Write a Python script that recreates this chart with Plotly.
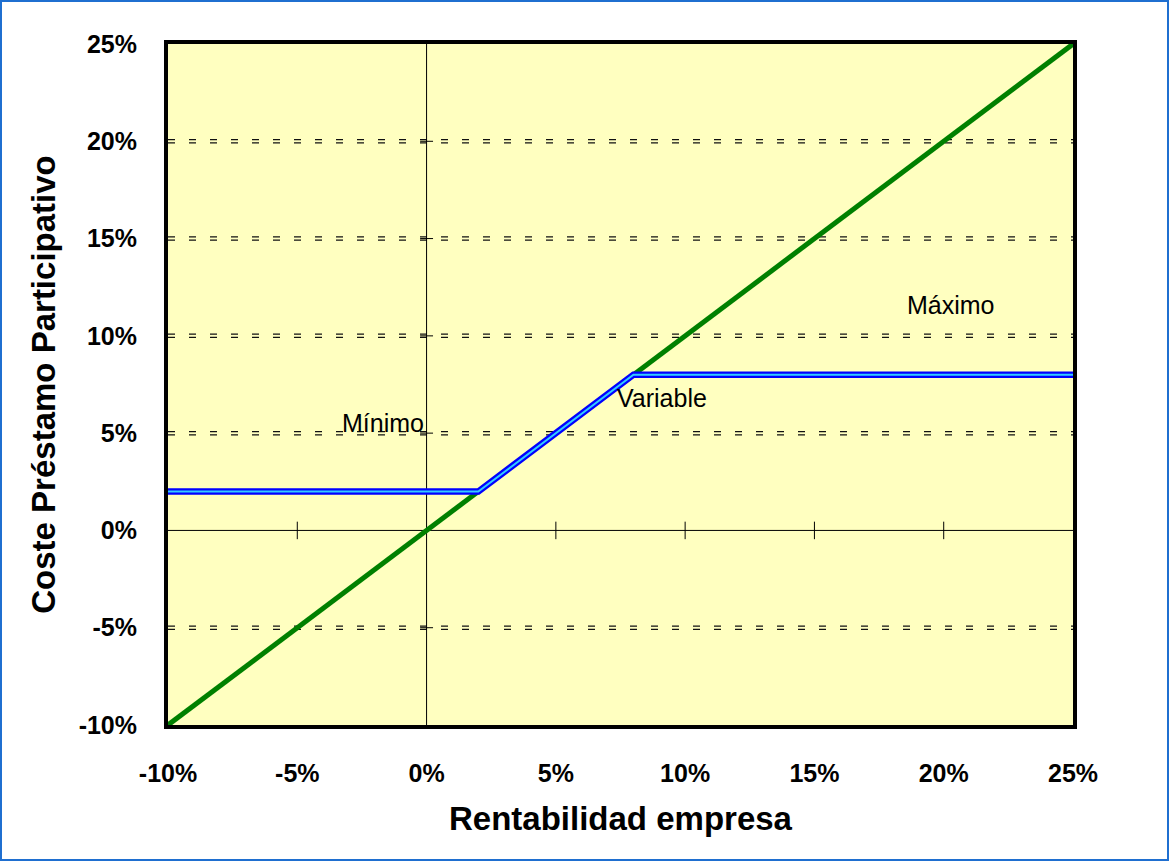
import plotly.graph_objects as go

# Data
x_green = [-10, 25]
y_green = [-10, 25]
x_blue = [-10, 2, 8, 25]
y_blue = [2, 2, 8, 8]
x_ticks = [-10, -5, 0, 5, 10, 15, 20, 25]
y_ticks = [-10, -5, 0, 5, 10, 15, 20, 25]
labels = ["Mínimo", "Variable", "Máximo"]
label_x = [-1.7, 9.1, 20.3]
label_y = [5.5, 6.8, 11.6]

W, H = 1169, 861
L, R, T, B = 168, 96, 44, 136
pw, ph = W - L - R, H - T - B
FONT = "Liberation Sans, Arial"

fig = go.Figure()

shapes = []
# dashed gridlines (hollow rectangle look)
for yv in y_ticks:
    if yv in (-10, 0, 25):
        continue
    shapes.append(dict(type="line", xref="x", yref="y", x0=-10, x1=25, y0=yv, y1=yv,
                       line=dict(color="#111111", width=4.5, dash="7px,14px"), layer="below"))
    shapes.append(dict(type="line", xref="x", yref="y", x0=-10, x1=25, y0=yv, y1=yv,
                       line=dict(color="#FFFFC0", width=2, dash="7px,14px"), layer="below"))
# zero lines
shapes.append(dict(type="line", xref="x", yref="y", x0=-10, x1=25, y0=0, y1=0,
                   line=dict(color="black", width=1), layer="below"))
shapes.append(dict(type="line", xref="x", yref="y", x0=0, x1=0, y0=-10, y1=25,
                   line=dict(color="black", width=1), layer="below"))
# cross tick marks on the zero x-axis
tk_y = 0.45
for xv in x_ticks:
    if xv in (-10, 25, 0):
        continue
    shapes.append(dict(type="line", xref="x", yref="y", x0=xv, x1=xv, y0=-tk_y, y1=tk_y,
                       line=dict(color="black", width=1), layer="below"))
tk_x = 0.25
for yv in y_ticks:
    if yv in (-10, 25, 0):
        continue
    shapes.append(dict(type="line", xref="x", yref="y", x0=-tk_x, x1=tk_x, y0=yv, y1=yv,
                       line=dict(color="black", width=1), layer="below"))
# figure border (blue)
shapes.append(dict(type="rect", xref="paper", yref="paper",
                   x0=-(L - 1) / pw, x1=1 + (R - 1) / pw,
                   y0=-(B - 1) / ph, y1=1 + (T - 1) / ph,
                   line=dict(color="#1F6FD0", width=2), fillcolor="rgba(0,0,0,0)", layer="below"))

fig.add_trace(go.Scatter(x=x_green, y=y_green, mode="lines",
                         line=dict(color="#008000", width=5), showlegend=False, hoverinfo="skip"))
fig.add_trace(go.Scatter(x=x_blue, y=y_blue, mode="lines",
                         line=dict(color="#0000FF", width=6.5), showlegend=False, hoverinfo="skip"))
fig.add_trace(go.Scatter(x=x_blue, y=y_blue, mode="lines",
                         line=dict(color="#33CCFF", width=2), showlegend=False, hoverinfo="skip"))

annotations = []
for t, ax_, ay_ in zip(labels, label_x, label_y):
    annotations.append(dict(x=ax_, y=ay_, xref="x", yref="y", text=t, showarrow=False,
                            font=dict(family=FONT, size=25, color="black")))

fig.update_layout(
    width=W, height=H,
    margin=dict(l=L, r=R, t=T, b=B),
    paper_bgcolor="white",
    plot_bgcolor="#FFFFC0",
    shapes=shapes,
    annotations=annotations,
    showlegend=False,
    xaxis=dict(range=[-10, 25], tickvals=x_ticks,
               ticktext=[f"{v}%" for v in x_ticks],
               showgrid=False, zeroline=False, showline=True, mirror=True,
               linecolor="black", linewidth=4, ticks="",
               tickfont=dict(family=FONT, size=25, color="black", weight="bold"),
               ticklabelstandoff=23,
               title=dict(text="<b>Rentabilidad empresa</b>", standoff=22,
                          font=dict(family=FONT, size=33, color="black"))),
    yaxis=dict(range=[-10, 25], tickvals=y_ticks,
               ticktext=[f"{v}%" for v in y_ticks],
               showgrid=False, zeroline=False, showline=True, mirror=True,
               linecolor="black", linewidth=4, ticks="",
               tickfont=dict(family=FONT, size=25, color="black", weight="bold"),
               ticklabelstandoff=22,
               title=dict(text="<b>Coste Préstamo Participativo</b>", standoff=14,
                          font=dict(family=FONT, size=33, color="black"))),
)

fig.write_html("out.html", config={"displayModeBar": False},
               post_script="document.body.style.margin='0';window.dispatchEvent(new Event('resize'));")
